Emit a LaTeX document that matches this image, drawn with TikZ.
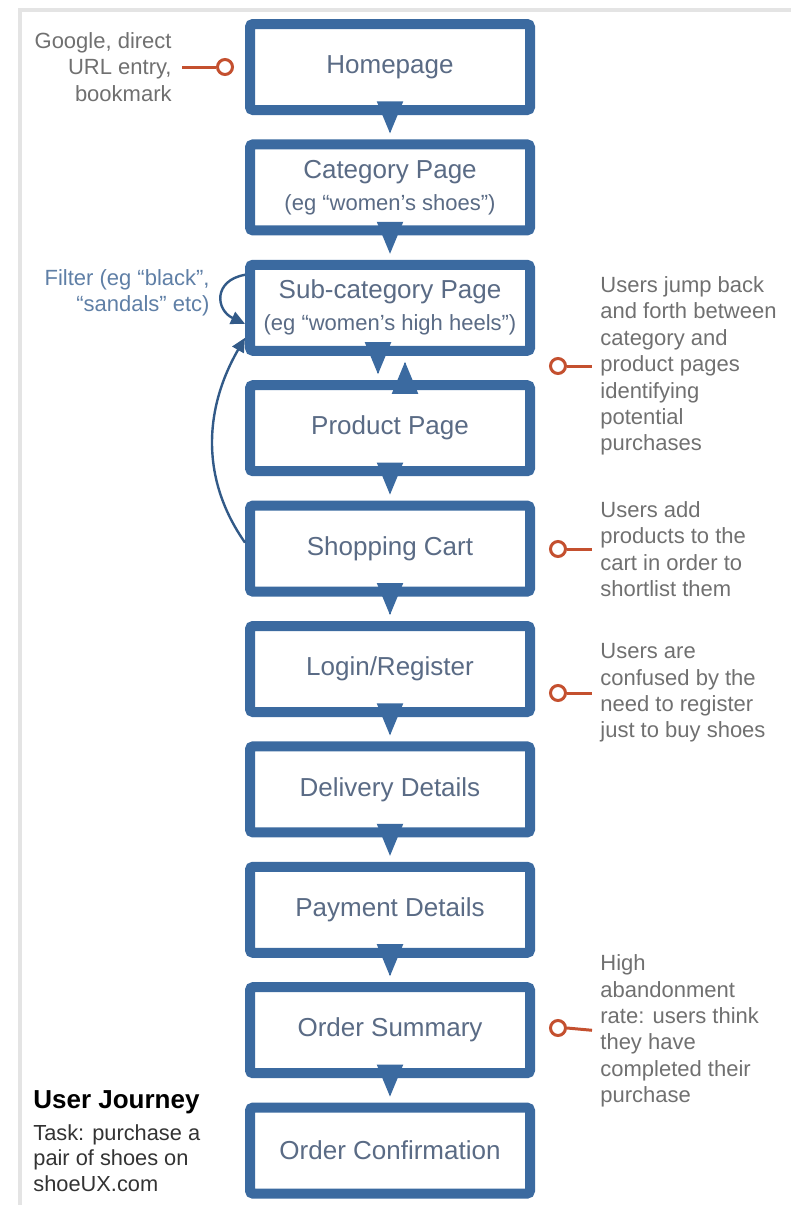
\documentclass[tikz,border=0pt]{standalone}
\usepackage{fontspec}
\setmainfont{Liberation Sans}
\usepackage{tikz}
\usetikzlibrary{positioning,arrows.meta}
\usepackage{xcolor}
\definecolor{boxblue}{HTML}{3B6AA0}
\definecolor{labelgray}{HTML}{5A6B85}
\definecolor{notegray}{HTML}{707070}
\definecolor{filterblue}{HTML}{5F7FA6}
\definecolor{pinred}{HTML}{C4502F}
\definecolor{framegray}{HTML}{E4E4E4}
\newcommand{\subline}[1]{{\fontsize{11}{13}\selectfont #1}}

\tikzset{
    stage/.style={draw=boxblue, line width=5pt, fill=white, rounded corners=1.5pt,
        minimum width=140pt, minimum height=43pt, align=center, text=labelgray,
        font=\fontsize{13}{16}\selectfont},
    flow/.style={draw=boxblue, fill=boxblue, line width=1pt,
        -{Triangle[length=16pt,width=13pt]}, shorten <=-8.5pt, shorten >=3pt},
    backflow/.style={draw=boxblue!85!black, line width=1.2pt,
        -{Triangle[length=7pt,width=6.5pt]}},
    hook/.style={circle, draw=pinred, line width=1.5pt, fill=white, minimum size=7.5pt, inner sep=0pt},
    remark/.style={text=notegray, inner sep=0pt, font=\fontsize{11}{13.2}\selectfont},
}

\begin{document}
\begin{tikzpicture}[x=0.5pt, y=-0.5pt, node distance=12.2pt]
        \useasboundingbox (0,0) rectangle (791,1205);
        \draw[framegray, line width=2pt] (20,1205) -- (20,10) -- (791,10);

        % pages
        \node[stage] (home) at (390,67) {Homepage};
        \node[stage, below=of home] (cat) {Category Page\\\subline{(eg “women’s shoes”)}};
        \node[stage, below=of cat] (subcat) {Sub-category Page\\\subline{(eg “women’s high heels”)}};
        \node[stage, below=of subcat] (prod) {Product Page};
        \node[stage, below=of prod] (cart) {Shopping Cart};
        \node[stage, below=of cart] (login) {Login/Register};
        \node[stage, below=of login] (deliv) {Delivery Details};
        \node[stage, below=of deliv] (pay) {Payment Details};
        \node[stage, below=of pay] (summ) {Order Summary};
        \node[stage, below=of summ] (confirm) {Order Confirmation};

        % arrows
        \draw[flow] (home.south) -- (cat.north);
        \draw[flow] (cat.south) -- (subcat.north);
        \draw[flow] ([xshift=-6pt]subcat.south) -- ([xshift=-6pt]prod.north);
        \draw[flow] ([xshift=7.5pt]prod.north) -- ([xshift=7.5pt]subcat.south);
        \draw[flow] (prod.south) -- (cart.north);
        \draw[flow] (cart.south) -- (login.north);
        \draw[flow] (login.south) -- (deliv.north);
        \draw[flow] (deliv.south) -- (pay.north);
        \draw[flow] (pay.south) -- (summ.north);
        \draw[flow] (summ.south) -- (confirm.north);

        % loops back
        \draw[backflow] ([yshift=3pt]cart.west) to[out=125, in=240] ([yshift=9pt]subcat.south west);
        \draw[backflow] ([yshift=16.5pt]subcat.west) to[out=190, in=155, looseness=1.7] ([yshift=-8pt]subcat.west);
        \node[remark, text=filterblue, align=right, anchor=east] (filter) at (210,293)
            {Filter (eg “black”,\\“sandals” etc)};

        % notes
        \node[remark, align=right, anchor=east] (entry) at (172,67)
            {Google, direct\\URL entry,\\bookmark};
        \node[hook] (hkentry) at (225,67) {};
        \draw[pinred, line width=1.5pt, shorten >=5pt] (hkentry.west) -- (entry.east);

        \node[remark, align=left, anchor=west] (jump) at (600,366)
            {Users jump back\\and forth between\\category and\\product pages\\identifying\\potential\\purchases};
        \node[hook] (hkjump) at (558,366) {};
        \draw[pinred, line width=1.5pt, shorten >=4pt] (hkjump.east) -- (jump.west);

        \node[remark, align=left, anchor=west] (shortlist) at (600,549)
            {Users add\\products to the\\cart in order to\\shortlist them};
        \node[hook] (hkshort) at (558,549) {};
        \draw[pinred, line width=1.5pt, shorten >=4pt] (hkshort.east) -- (shortlist.west);

        \node[remark, align=left, anchor=west] (confused) at (600,693)
            {Users are\\confused by the\\need to register\\just to buy shoes};
        \node[hook] (hkconf) at (558,693) {};
        \draw[pinred, line width=1.5pt, shorten >=4pt] (hkconf.east) -- (confused.west);

        \node[remark, align=left, anchor=west] (abandon) at (600,1031)
            {High\\abandonment\\rate: users think\\they have\\completed their\\purchase};
        \node[hook] (hkaband) at (558,1028) {};
        \draw[pinred, line width=1.5pt, shorten >=4pt] (hkaband.east) -- (abandon.west);

        % caption
        \node[anchor=west, inner sep=0pt, font=\bfseries\fontsize{13}{15}\selectfont] (title) at (33,1102) {User Journey};
        \node[anchor=north west, inner sep=0pt, align=left, text=black!80, font=\fontsize{10.9}{12.8}\selectfont]
            (task) at (33,1124) {Task: purchase a\\pair of shoes on\\shoeUX.com};
    \end{tikzpicture}
\end{document}
